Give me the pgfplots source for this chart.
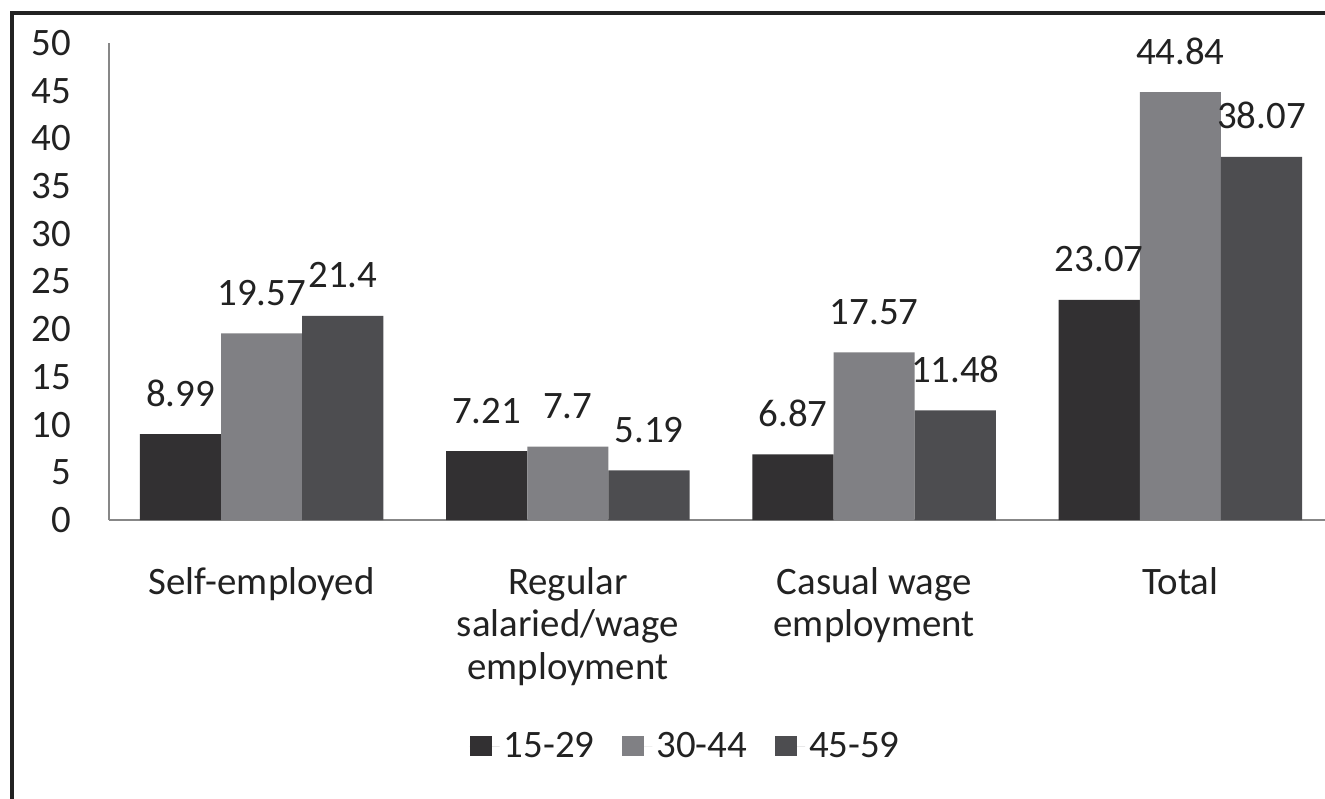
\documentclass[border=0pt]{standalone}
\usepackage{fontspec}
\setmainfont{Carlito}
\usepackage{pgfplots}
\pgfplotsset{compat=1.18}
\definecolor{cA}{RGB}{50,48,50}
\definecolor{cB}{RGB}{128,128,132}
\definecolor{cC}{RGB}{77,77,80}
\definecolor{txt}{RGB}{34,34,34}
\definecolor{axg}{RGB}{135,135,135}
\begin{document}
\begin{tikzpicture}
\path[use as bounding box] (0,0) rectangle (662.5bp,399.5bp);
\fill[white] (0,0) rectangle (662.5bp,399.5bp);
\draw[txt, line width=1.6bp] (6bp,-2bp) -- (6bp,393bp) -- (665bp,393bp);
\begin{axis}[
  at={(54.25bp,139.5bp)}, anchor=south west,
  scale only axis, width=612.5bp, height=238.5bp,
  xmin=-0.5, xmax=3.5, ymin=0, ymax=50,
  axis x line=bottom, axis y line=left,
  axis line style={axg, line width=1bp, -},
  ytick={0,5,...,50}, xtick={0,1,2,3},
  xticklabels={Self-employed, {Regular\\salaried/wage\\employment}, {Casual wage\\employment}, Total},
  major tick length=0pt,
  tick style={draw=none},
  ticklabel style={font=\fontsize{19.5}{21.3}\selectfont, text=txt},
  /pgf/number format/assume math mode=true,
  yticklabel style={anchor=east, inner sep=0pt, xshift=-18.5bp},
  xticklabel style={anchor=north, align=center, inner sep=0pt, yshift=-23.5bp},
  ybar=0pt, bar width=0.265,
  point meta=explicit symbolic,
  nodes near coords,
  nodes near coords style={font=\fontsize{19.5}{21}\selectfont, text=txt, anchor=base, inner sep=0pt, yshift=14bp},
  legend columns=3,
  legend style={at={(0.472,-0.474)}, anchor=center, draw=none, fill=none,
    font=\fontsize{19.5}{21}\selectfont, text=txt,
    /tikz/every even column/.append style={column sep=12bp}},
  legend image code/.code={\fill[#1] (0bp,-5bp) rectangle (11bp,5bp); \path (0bp,0bp) -- (15bp,0bp);},
  clip=false,
]
\addplot[fill=cA, draw=none] coordinates {(0,8.99) [8.99] (1,7.21) [7.21] (2,6.87) [6.87] (3,23.07) [23.07]};
\addplot[fill=cB, draw=none] coordinates {(0,19.57) [19.57] (1,7.7) [7.7] (2,17.57) [17.57] (3,44.84) [44.84]};
\addplot[fill=cC, draw=none] coordinates {(0,21.4) [21.4] (1,5.19) [5.19] (2,11.48) [11.48] (3,38.07) [38.07]};
\legend{15-29, 30-44, 45-59}
\end{axis}
\end{tikzpicture}
\end{document}
